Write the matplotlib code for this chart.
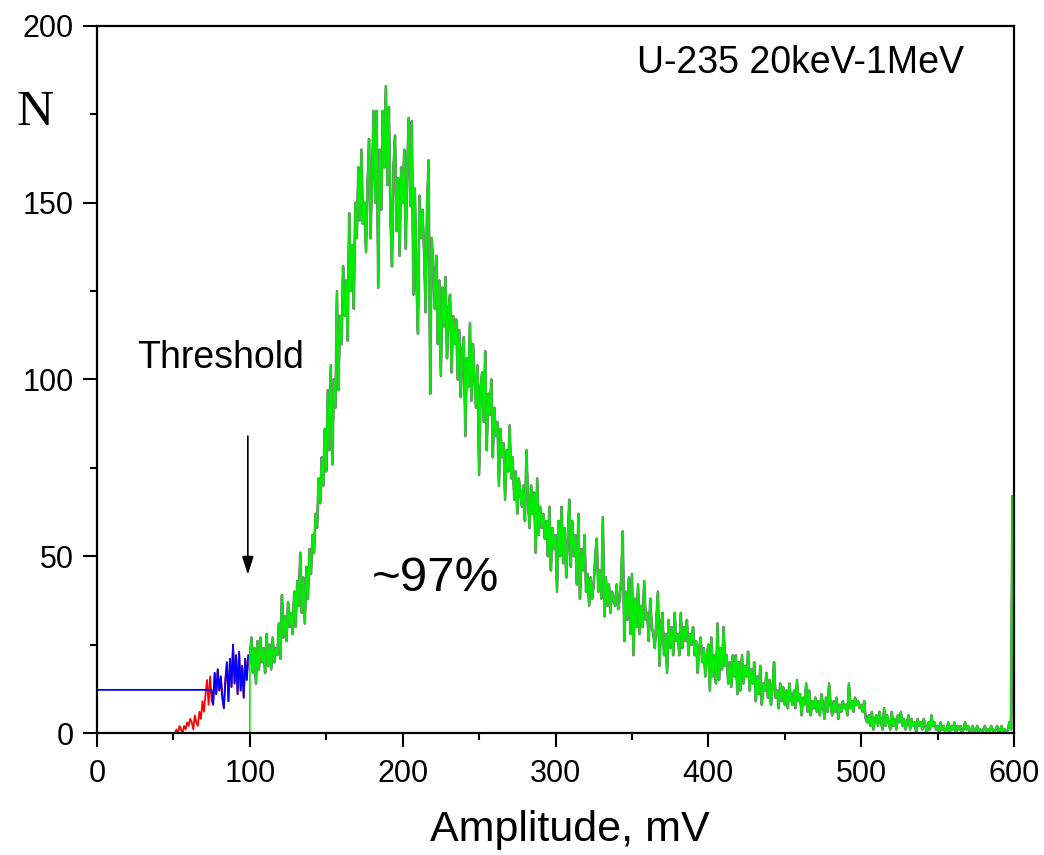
import matplotlib
matplotlib.use("Agg")
import matplotlib.pyplot as plt
from matplotlib.ticker import MultipleLocator

# ---------------- data ----------------
x_start = 50          # first channel of the measured spectrum, mV
x_step = 1            # channel width, mV
counts = [
    0, 0, 1, 0, 2, 1, 0, 2, 1, 3,
    2, 4, 3, 1, 5, 3, 2, 6, 4, 9,
    6, 11, 15, 8, 16, 9, 8, 17, 11, 18,
    12, 16, 10, 7, 15, 20, 9, 21, 13, 25,
    14, 22, 11, 23, 12, 19, 10, 21, 15, 22,
    20, 27, 17, 24, 14, 26, 18, 27, 20, 24,
    17, 28, 19, 25, 18, 27, 20, 24, 22, 31,
    21, 39, 27, 33, 26, 37, 30, 34, 28, 40,
    30, 43, 36, 51, 34, 44, 31, 47, 38, 52,
    45, 56, 51, 62, 58, 72, 65, 78, 70, 86,
    74, 97, 80, 104, 76, 100, 92, 125, 97, 118,
    110, 132, 118, 128, 111, 147, 125, 138, 120, 150,
    140, 160, 145, 165, 144, 150, 136, 155, 168, 140,
    158, 176, 150, 176, 126, 165, 148, 176, 160, 183,
    155, 177, 146, 132, 160, 169, 142, 157, 135, 160,
    150, 165, 137, 160, 174, 149, 173, 124, 154, 128,
    113, 152, 140, 148, 136, 119, 150, 162, 96, 140,
    132, 120, 135, 110, 128, 101, 126, 115, 129, 106,
    120, 124, 102, 118, 110, 117, 100, 114, 95, 108,
    112, 84, 106, 98, 116, 94, 110, 100, 92, 104,
    73, 98, 102, 88, 108, 80, 96, 90, 100, 78,
    92, 84, 88, 70, 86, 78, 82, 66, 80, 74,
    87, 72, 78, 66, 74, 62, 72, 68, 64, 70,
    60, 80, 66, 58, 70, 62, 68, 51, 72, 56,
    64, 58, 62, 55, 60, 50, 64, 46, 58, 52,
    56, 40, 60, 50, 64, 48, 58, 44, 54, 66,
    47, 60, 50, 56, 42, 62, 38, 52, 46, 56,
    40, 45, 36, 44, 38, 42, 50, 55, 40, 46,
    38, 61, 33, 44, 36, 42, 34, 40, 38, 36,
    42, 35, 38, 44, 57, 26, 40, 32, 44, 28,
    45, 22, 38, 30, 42, 28, 36, 30, 43, 32,
    34, 26, 38, 30, 28, 24, 32, 40, 19, 30,
    34, 22, 28, 17, 32, 24, 30, 22, 34, 26,
    28, 22, 34, 24, 30, 26, 32, 22, 28, 25,
    30, 22, 26, 17, 24, 27, 20, 24, 16, 22,
    25, 12, 27, 16, 22, 14, 31, 15, 24, 18,
    30, 19, 22, 14, 20, 13, 22, 16, 22, 11,
    20, 12, 22, 14, 19, 16, 23, 12, 18, 14,
    20, 9, 16, 11, 19, 8, 14, 12, 17, 10,
    15, 8, 13, 20, 10, 12, 7, 14, 9, 13,
    8, 12, 7, 14, 10, 8, 12, 7, 15, 9,
    11, 5, 10, 8, 14, 6, 12, 5, 9, 7,
    10, 6, 9, 5, 11, 8, 4, 10, 6, 14,
    8, 5, 9, 6, 10, 4, 8, 6, 9, 7,
    8, 5, 14, 7, 9, 6, 10, 8, 9, 7,
    8, 6, 9, 4, 3, 5, 2, 6, 1, 4,
    5, 2, 6, 3, 1, 7, 2, 5, 3, 1,
    6, 2, 4, 1, 5, 3, 6, 2, 4, 1,
    3, 5, 1, 4, 2, 3, 0, 4, 2, 3,
    1, 4, 2, 0, 3, 1, 5, 2, 3, 1,
    2, 0, 3, 1, 2, 0, 1, 3, 0, 2,
    1, 3, 0, 2, 1, 2, 0, 1, 3, 1,
    2, 0, 1, 2, 0, 1, 2, 0, 1, 0,
    1, 2, 0, 1, 0, 2, 1, 0, 1, 2,
    0, 1, 2, 0, 1, 0, 1, 3, 1, 67,
    0,
]
amplitude = [x_start + i * x_step for i in range(len(counts))]

red_threshold = 50      # mV
blue_threshold = 75     # mV
green_threshold = 100   # mV
blue_floor = 12.2       # level of the blue trace below its threshold

x_ticks = [0, 100, 200, 300, 400, 500, 600]
y_ticks = [0, 50, 100, 150, 200]

# ---------------- figure ----------------
fig = plt.figure(figsize=(10.44, 8.55), dpi=100)
ax = fig.add_axes([97 / 1044, 1 - 733 / 855, (1014 - 97) / 1044, (733 - 26) / 855])

font = "Liberation Sans"

# red trace
rx = [0, red_threshold] + [a for a in amplitude if a >= red_threshold]
ry = [0, 0] + [c for a, c in zip(amplitude, counts) if a >= red_threshold]
ax.plot(rx, ry, color="#ff0000", lw=1.3, zorder=2)

# blue trace
bx = [0, blue_threshold] + [a for a in amplitude if a > blue_threshold]
by = [blue_floor, blue_floor] + [c for a, c in zip(amplitude, counts) if a > blue_threshold]
ax.plot(bx, by, color="#0000ff", lw=1.3, zorder=3)

# green trace (with grey outline)
gx = [0, green_threshold] + [a for a in amplitude if a >= green_threshold]
gy = [0, 0] + [c for a, c in zip(amplitude, counts) if a >= green_threshold]
ax.plot(gx[2:], gy[2:], color="#808080", lw=1.9, zorder=4)
ax.plot(gx, gy, color="#00ee00", lw=1.2, zorder=5, clip_on=False)

ax.set_xlim(0, 600)
ax.set_ylim(0, 200)
ax.set_xticks(x_ticks)
ax.set_yticks(y_ticks)
ax.xaxis.set_minor_locator(MultipleLocator(50))
ax.yaxis.set_minor_locator(MultipleLocator(25))
ax.tick_params(which="major", direction="out", length=10, width=1.5,
               labelsize=22, pad=7)
ax.tick_params(axis="x", which="major", pad=9)
ax.tick_params(which="minor", direction="out", length=5, width=1.5)
ax.tick_params(top=False, right=False, which="both")
for lab in ax.get_xticklabels() + ax.get_yticklabels():
    lab.set_fontfamily(font)
for sp in ax.spines.values():
    sp.set_linewidth(1.6)
    sp.set_zorder(6)

# texts
fig.text(570 / 1044, 1 - 830 / 855, "Amplitude, mV", ha="center", va="center",
         fontsize=31, family=font)
fig.text(35 / 1044, 1 - 113 / 855, "N", ha="center", va="center",
         fontsize=37, family="Liberation Serif")
ax.text(26, 106, "Threshold", ha="left", va="center", fontsize=27, family=font)
ax.text(180, 43.6, "~97%", ha="left", va="center", fontsize=35.5, family=font)
ax.text(353.5, 189.5, "U-235 20keV-1MeV", ha="left", va="center",
        fontsize=27, family=font)

ax.annotate("", xy=(98.7, 44.8), xytext=(98.7, 84),
            arrowprops=dict(arrowstyle="-|>,head_length=1.1,head_width=0.35",
                            color="black", lw=1.2, shrinkA=0, shrinkB=0))

fig.savefig("out.png", dpi=100)
